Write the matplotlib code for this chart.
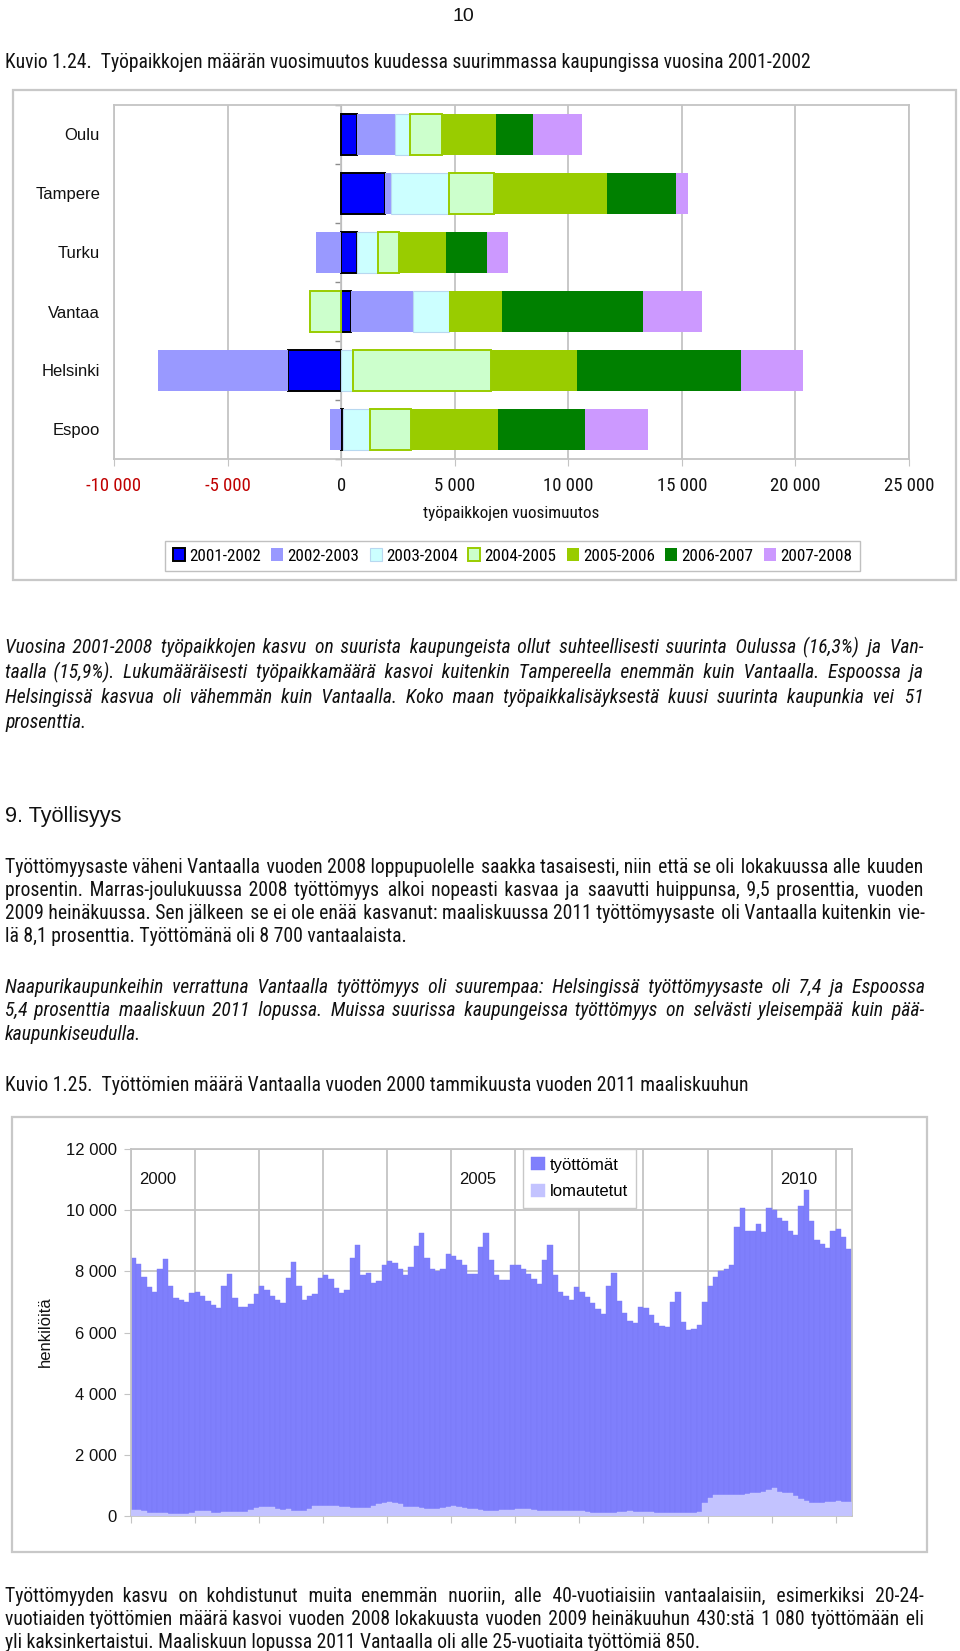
import numpy as np
import matplotlib
matplotlib.use('Agg')
import matplotlib.pyplot as plt
from matplotlib import font_manager
from matplotlib.font_manager import FontProperties
from matplotlib.ft2font import FT2Font
from matplotlib.patches import Rectangle

SANS = 'Liberation Sans'
plt.rcParams['font.family'] = [SANS, 'DejaVu Sans']

# --- Kuvio 1.24: job change per city and year
cities = ['Oulu', 'Tampere', 'Turku', 'Vantaa', 'Helsinki', 'Espoo']
periods = ['2001-2002', '2002-2003', '2003-2004', '2004-2005',
           '2005-2006', '2006-2007', '2007-2008']
ch_2001_02 = [690, 1940, 700, 440, -2330, 100]
ch_2002_03 = [1690, 260, -1100, 2710, -5730, -500]
ch_2003_04 = [630, 2550, 920, 1580, 540, 1170]
ch_2004_05 = [1450, 1980, 940, -1370, 6060, 1790]
ch_2005_06 = [2360, 4960, 2070, 2360, 3800, 3830]
ch_2006_07 = [1610, 3040, 1790, 6200, 7190, 3860]
ch_2007_08 = [2160, 560, 910, 2600, 2740, 2760]
x_ticks = [-10000, -5000, 0, 5000, 10000, 15000, 20000, 25000]

# --- Kuvio 1.25: unemployed in Vantaa, Jan 2000 - Mar 2011 (monthly)
tyottomat = [
    8450, 8240, 7800, 7490, 7340, 8060, 8400, 7520, 7130, 7060, 6990, 7300,
    7320, 7200, 7040, 6890, 6790, 7510, 7900, 7140, 6830, 6820, 6940, 7270,
    7510, 7380, 7200, 7050, 6960, 7780, 8310, 7510, 7070, 7200, 7250, 7770,
    7880, 7750, 7460, 7290, 7400, 8450, 8850, 7890, 7960, 7620, 7670, 8200,
    8330, 8280, 8090, 7890, 8140, 8820, 9260, 8420, 8080, 8000, 8060, 8580,
    8490, 8360, 8200, 7900, 7900, 8800, 9260, 8360, 7890, 7730, 7730, 8220,
    8220, 8060, 7900, 7760, 7570, 8380, 8870, 7870, 7320, 7190, 7050, 7490,
    7340, 7160, 6960, 6780, 6610, 7510, 7960, 7020, 6650, 6370, 6320, 6830,
    6810, 6580, 6310, 6200, 6180, 6990, 7320, 6340, 6070, 6120, 6230, 6990,
    7510, 7810, 8010, 8070, 8220, 9450, 10060, 9310, 9310, 9540, 9290, 10060,
    10020, 9750, 9640, 9320, 9180, 10130, 10660, 9650, 9020, 8910, 8770, 9320,
    9380, 9130, 8740]
lomautetut = [
    200, 190, 170, 110, 90, 85, 100, 70, 65, 65, 75, 110,
    160, 160, 150, 90, 100, 120, 120, 130, 140, 140, 200, 260,
    300, 310, 300, 220, 210, 240, 160, 150, 170, 220, 320, 330,
    330, 330, 320, 310, 280, 260, 270, 260, 250, 330, 380, 440,
    450, 440, 380, 300, 300, 290, 260, 220, 220, 230, 270, 290,
    320, 300, 260, 230, 220, 200, 160, 150, 160, 200, 210, 200,
    220, 230, 220, 200, 170, 160, 150, 150, 160, 170, 170, 170,
    160, 130, 110, 100, 100, 110, 100, 120, 140, 150, 140, 140,
    130, 130, 110, 100, 90, 90, 90, 100, 100, 110, 120, 420,
    580, 680, 700, 690, 690, 690, 700, 710, 740, 760, 780, 850,
    900, 800, 760, 740, 640, 560, 480, 430, 420, 410, 450, 470,
    480, 470, 470]
year_labels = [2000, 2005, 2010]
y_ticks2 = [0, 2000, 4000, 6000, 8000, 10000, 12000]

# --- page text
title1 = 'Kuvio 1.24.  Työpaikkojen määrän vuosimuutos kuudessa suurimmassa kaupungissa vuosina 2001-2002'
par1 = ['Vuosina 2001-2008 työpaikkojen kasvu on suurista kaupungeista ollut suhteellisesti suurinta Oulussa (16,3%) ja Van-',
        'taalla (15,9%). Lukumääräisesti työpaikkamäärä kasvoi kuitenkin Tampereella enemmän kuin Vantaalla. Espoossa ja',
        'Helsingissä kasvua oli vähemmän kuin Vantaalla. Koko maan työpaikkalisäyksestä kuusi suurinta kaupunkia vei 51',
        'prosenttia.']
heading = '9. Työllisyys'
par2 = ['Työttömyysaste väheni Vantaalla vuoden 2008 loppupuolelle saakka tasaisesti, niin että se oli lokakuussa alle kuuden',
        'prosentin. Marras-joulukuussa 2008 työttömyys alkoi nopeasti kasvaa ja saavutti huippunsa, 9,5 prosenttia, vuoden',
        '2009 heinäkuussa. Sen jälkeen se ei ole enää kasvanut: maaliskuussa 2011 työttömyysaste oli Vantaalla kuitenkin vie-',
        'lä 8,1 prosenttia. Työttömänä oli 8 700 vantaalaista.']
par3 = ['Naapurikaupunkeihin verrattuna Vantaalla työttömyys oli suurempaa: Helsingissä työttömyysaste oli 7,4 ja Espoossa',
        '5,4 prosenttia maaliskuun 2011 lopussa. Muissa suurissa kaupungeissa työttömyys on selvästi yleisempää kuin pää-',
        'kaupunkiseudulla.']
title2 = 'Kuvio 1.25.  Työttömien määrä Vantaalla vuoden 2000 tammikuusta vuoden 2011 maaliskuuhun'
par4 = ['Työttömyyden kasvu on kohdistunut muita enemmän nuoriin, alle 40-vuotiaisiin vantaalaisiin, esimerkiksi 20-24-',
        'vuotiaiden työttömien määrä kasvoi vuoden 2008 lokakuusta vuoden 2009 heinäkuuhun 430:stä 1 080 työttömään eli',
        'yli kaksinkertaistui. Maaliskuun lopussa 2011 Vantaalla oli alle 25-vuotiaita työttömiä 850.']


def narrow_font(style):
    # the page text is set in a narrow Helvetica; use a narrow face if one is installed
    ttf = font_manager.fontManager.ttflist
    for name in ['Liberation Sans Narrow', 'Arial Narrow', 'Roboto Condensed',
                 'Open Sans Condensed', 'DejaVu Sans Condensed']:
        for f in ttf:
            if f.name == name and f.style == style and f.weight in (400, 'normal', 'regular'):
                return FontProperties(fname=f.fname)
    for f in ttf:
        if (f.stretch in ('condensed', 'semi-condensed') and 'Sans' in f.name
                and f.style == style and f.weight in (400, 'normal', 'regular')):
            return FontProperties(fname=f.fname)
    return FontProperties(family=SANS, style=style)


def fine_space(fp):
    # thinnest space glyph the font has, for justifying lines
    path = fp.get_file() or font_manager.findfont(fp)
    ft = FT2Font(path)
    for ch in ('\u200a', '\u2009'):
        if ft.get_char_index(ord(ch)):
            return ch
    return ' '


BODY = narrow_font('normal')
BODY_IT = narrow_font('italic')
HEAD = FontProperties(family=SANS)

W, H = 960, 1651
fig = plt.figure(figsize=(W / 100, H / 100), dpi=100)
fig.patch.set_facecolor('white')
renderer = fig.canvas.get_renderer()
TXT = '#111111'
GRID = '#C4C4C4'


def fx(x):
    return x / W


def fy(y):
    return 1 - y / H


def width_of(s, size, fp):
    t = fig.text(0, 0, s, fontproperties=fp, fontsize=size)
    w = t.get_window_extent(renderer).width
    t.remove()
    return w


def fitted(s, target, fp):
    return 10 * target / width_of(s, 10, fp)


def put(x, y, s, size, fp, x1=None):
    # y is the visual middle of the line; x1 = right margin for justified lines
    if x1 is not None:
        words = s.split(' ')
        fs = fine_space(fp)
        step = width_of('a' + fs * 10 + 'a', size, fp) - width_of('aa', size, fp)
        k = max(0, int(round(10 * (x1 - x - width_of(s, size, fp)) / step)))
        g = len(words) - 1
        counts = [(k * (i + 1)) // g - (k * i) // g for i in range(g)]
        s = words[0] + ''.join(' ' + fs * c + w for c, w in zip(counts, words[1:]))
    fig.text(fx(x), fy(y + 0.42 * size * 100 / 72), s, fontproperties=fp,
             fontsize=size, va='baseline', color=TXT)


def paragraph(lines, ys, size, fp, x0=5, x1=924):
    for i, (line, y) in enumerate(zip(lines, ys)):
        put(x0, y, line, size, fp, None if i == len(lines) - 1 else x1)


body_size = 0.5 * (fitted(par2[-1], 403, BODY) + fitted(par4[-1], 690, BODY))

put(452, 13, '10', 14, HEAD)
put(5, 60, title1, fitted(title1, 803, BODY), BODY)
paragraph(par1, [645, 670, 695, 720], body_size, BODY_IT)
put(5, 813, heading, fitted(heading, 116, HEAD), HEAD)
paragraph(par2, [865, 888, 911, 934], body_size, BODY)
paragraph(par3, [985, 1008, 1032], body_size, BODY_IT)
put(5, 1083, title2, fitted(title2, 742, BODY), BODY)
paragraph(par4, [1594, 1617, 1640], body_size, BODY)

# ---------------- chart 1 ----------------
fig.add_artist(Rectangle((fx(13), fy(580)), (956 - 13) / W, (580 - 90) / H,
                         transform=fig.transFigure, fill=False,
                         edgecolor='#C8C8C8', lw=1.6))
ax1 = fig.add_axes([fx(114), fy(459), (909 - 114) / W, (459 - 105) / H])
series = [ch_2001_02, ch_2002_03, ch_2003_04, ch_2004_05,
          ch_2005_06, ch_2006_07, ch_2007_08]
styles = [dict(color='#0000FF', edgecolor='#000000', linewidth=1.4),
          dict(color='#9999FF', linewidth=0),
          dict(color='#CCFFFF', edgecolor='#B8D8F0', linewidth=0.8),
          dict(color='#CCFFCC', edgecolor='#99CC00', linewidth=1.4),
          dict(color='#99CC00', linewidth=0),
          dict(color='#008000', linewidth=0),
          dict(color='#CC99FF', linewidth=0)]
yy = np.arange(len(cities))
pos = np.zeros(len(cities))
neg = np.zeros(len(cities))
for label, vals, st in zip(periods, series, styles):
    v = np.array(vals, dtype=float)
    left = np.where(v >= 0, pos, neg)
    ax1.barh(yy, v, left=left, height=0.69, label=label, zorder=3, **st)
    pos += np.clip(v, 0, None)
    neg += np.clip(v, None, 0)

tick_lab = [f'{v:,}'.replace(',', ' ') for v in x_ticks]
ax1.set_xlim(x_ticks[0], x_ticks[-1])
ax1.set_ylim(len(cities) - 0.5, -0.5)
ax1.set_xticks(x_ticks)
ax1.set_xticklabels(tick_lab, fontproperties=BODY,
                    fontsize=fitted(tick_lab[-1], 50, BODY))
for lab, v in zip(ax1.get_xticklabels(), x_ticks):
    lab.set_color('#C00000' if v < 0 else TXT)
ax1.set_yticks(yy)
ax1.set_yticklabels(cities, fontsize=12, color=TXT)
ax1.tick_params(axis='y', length=0, pad=10)
ax1.tick_params(axis='x', length=5, color=GRID, pad=8)
ax1.grid(axis='x', color=GRID, lw=1.3)
ax1.set_axisbelow(True)
for sp in ax1.spines.values():
    sp.set_color(GRID)
    sp.set_linewidth(1.3)
xlab = 'työpaikkojen vuosimuutos'
ax1.set_xlabel(xlab, fontproperties=BODY, fontsize=fitted(xlab, 176, BODY),
               color=TXT, labelpad=8)

zero = ax1.secondary_yaxis((0 - x_ticks[0]) / (x_ticks[-1] - x_ticks[0]))
zero.set_yticks(np.arange(-0.5, len(cities), 1.0))
zero.set_yticklabels([])
zero.tick_params(length=4, color='#8C8C8C', width=1)
for sp in zero.spines.values():
    sp.set_color('#8C8C8C')

leg_fp = BODY.copy()
leg_fp.set_size(fitted('2001-2002', 71, BODY))
fig.legend(*ax1.get_legend_handles_labels(), loc='center',
           bbox_to_anchor=(fx(512.5), fy(556)), ncol=7, prop=leg_fp,
           frameon=True, fancybox=False, edgecolor='#C0C0C0', framealpha=1,
           handlelength=0.7, handleheight=0.7, handletextpad=0.25,
           columnspacing=0.6, borderpad=0.45)

# ---------------- chart 2 ----------------
fig.add_artist(Rectangle((fx(12), fy(1552)), (927 - 12) / W, (1552 - 1117) / H,
                         transform=fig.transFigure, fill=False,
                         edgecolor='#C8C8C8', lw=1.6))
ax2 = fig.add_axes([fx(130.7), fy(1516), (851.7 - 130.7) / W, (1516 - 1149) / H])
months = np.arange(len(tyottomat))
ax2.bar(months + 0.5, tyottomat, width=1.0, color='#7F7FFC',
        edgecolor='#7A7AF6', linewidth=0.3, label='työttömät', zorder=2)
ax2.bar(months + 0.5, lomautetut, width=1.0, color='#C3C3FF',
        edgecolor='#C3C3FF', linewidth=0.3, label='lomautetut', zorder=3)
ax2.set_xlim(0, len(months))
ax2.set_ylim(y_ticks2[0], y_ticks2[-1])
ax2.set_xticks(np.arange(0, len(months), 12))
ax2.set_xticklabels([])
ax2.set_yticks(y_ticks2)
ax2.set_yticklabels([f'{v:,}'.replace(',', ' ') for v in y_ticks2],
                    fontsize=12, color=TXT)
ax2.tick_params(length=5, color=GRID, pad=5)
ax2.grid(True, color=GRID, lw=1.3)
ax2.set_axisbelow(True)
for sp in ax2.spines.values():
    sp.set_color(GRID)
    sp.set_linewidth(1.3)
for yr in year_labels:
    ax2.text((yr - year_labels[0]) * 12 + 5, 11000, str(yr), ha='center',
             va='center', fontsize=12, color=TXT)
fig.text(fx(45), fy(1332), 'henkilöitä', rotation=90, ha='center',
         va='center', fontsize=12, color=TXT)
ax2.legend(loc='upper left', bbox_to_anchor=(fx(523), fy(1149)),
           bbox_transform=fig.transFigure, fontsize=12, handlelength=0.8,
           handleheight=0.8, handletextpad=0.3, fancybox=False,
           edgecolor='#C8C8C8', framealpha=1, borderpad=0.5,
           labelspacing=0.7, borderaxespad=0)

fig.savefig('out.png', dpi=100)
